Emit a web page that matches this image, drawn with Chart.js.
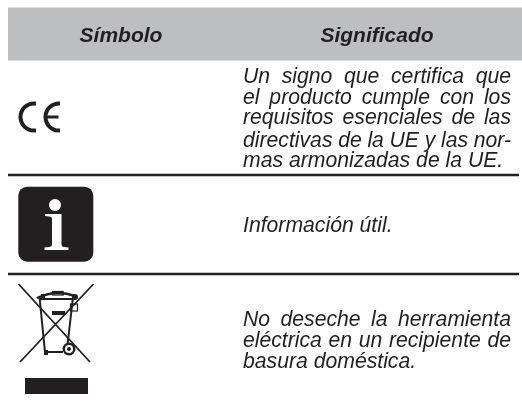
<!DOCTYPE html>
<html>
<head>
<meta charset="utf-8">
<script src="https://cdn.jsdelivr.net/npm/chart.js@4"></script>
<style>
  html, body { margin: 0; padding: 0; background: #fff; }
  canvas { display: block; }
</style>
</head>
<body>
<canvas id="table-chart" width="522" height="403"></canvas>
<script>
// Table contents
const headers = ["Símbolo", "Significado"];
const headerX = [121, 377];
const headerBaseline = 42;

const ceLines = [
  "Un signo que certifica que",
  "el producto cumple con los",
  "requisitos esenciales de las",
  "directivas de la UE y las nor-",
  "mas armonizadas de la UE.",
];
const ceBaselines = [83, 104, 124, 146.5, 167];
const infoLines = ["Información útil."];
const infoBaselines = [232];
const wasteLines = [
  "No deseche la herramienta",
  "eléctrica en un recipiente de",
  "basura doméstica.",
];
const wasteBaselines = [326, 347, 367.5];

// Table frame
const headerBandY = 34;
const ruleRows = [175, 274];
const tableLeft = 8;
const tableRight = 519;
const textLeft = 243;
const textRight = 511;
const INK = "#231f20";

// Draw one block of text, stretching every line but the last to the column
function drawBlock(ctx, lines, baselines, scales) {
  const full = scales.x.getPixelForValue(textRight) - scales.x.getPixelForValue(textLeft);
  ctx.font = "italic 21.2px 'Liberation Sans'";
  ctx.fillStyle = INK;
  ctx.textAlign = "left";
  lines.forEach((line, i) => {
    ctx.wordSpacing = "0px";
    if (i < lines.length - 1) {
      const gaps = line.split(" ").length - 1;
      ctx.wordSpacing = (full - ctx.measureText(line).width) / gaps + "px";
    }
    ctx.fillText(line, scales.x.getPixelForValue(textLeft), scales.y.getPixelForValue(baselines[i]));
  });
  ctx.wordSpacing = "0px";
}

function drawCe(ctx) {
  ctx.strokeStyle = INK;
  ctx.lineWidth = 4;
  ctx.beginPath();
  ctx.moveTo(36, 103.5);
  ctx.lineTo(34, 103.5);
  ctx.arc(34, 117, 13.5, 1.5 * Math.PI, 0.5 * Math.PI, true);
  ctx.lineTo(36, 130.5);
  ctx.stroke();
  ctx.beginPath();
  ctx.moveTo(60, 103.5);
  ctx.lineTo(59, 103.5);
  ctx.arc(59, 117, 13.5, 1.5 * Math.PI, 0.5 * Math.PI, true);
  ctx.lineTo(60, 130.5);
  ctx.stroke();
  ctx.lineWidth = 3;
  ctx.beginPath();
  ctx.moveTo(46, 117);
  ctx.lineTo(58.5, 117);
  ctx.stroke();
}

function drawInfo(ctx) {
  ctx.fillStyle = INK;
  ctx.beginPath();
  ctx.roundRect(18.3, 186.7, 75, 75, 9);
  ctx.fill();
  ctx.fillStyle = "#fff";
  ctx.beginPath();
  ctx.arc(55, 205, 6, 0, 2 * Math.PI);
  ctx.fill();
  ctx.beginPath();
  ctx.moveTo(45, 214);
  ctx.lineTo(61.5, 214);
  ctx.lineTo(61.5, 244);
  ctx.quadraticCurveTo(61.5, 247, 64, 247);
  ctx.lineTo(68.5, 247.5);
  ctx.lineTo(68.5, 250);
  ctx.lineTo(44.5, 250);
  ctx.lineTo(44.5, 247.5);
  ctx.lineTo(49, 247);
  ctx.quadraticCurveTo(52, 247, 52, 244);
  ctx.lineTo(52, 219);
  ctx.quadraticCurveTo(52, 216.5, 49, 216.5);
  ctx.lineTo(45, 216);
  ctx.closePath();
  ctx.fill();
}

function drawBin(ctx) {
  ctx.strokeStyle = INK;
  ctx.fillStyle = INK;
  // crossed lines
  ctx.lineWidth = 1.8;
  ctx.beginPath();
  ctx.moveTo(18.5, 284);
  ctx.lineTo(90, 362);
  ctx.moveTo(93.5, 284);
  ctx.lineTo(20, 362);
  ctx.stroke();
  // body
  ctx.lineWidth = 2;
  ctx.beginPath();
  ctx.moveTo(39.5, 297);
  ctx.lineTo(45, 352);
  ctx.lineTo(63, 352);
  ctx.moveTo(73, 297);
  ctx.lineTo(67.5, 345);
  ctx.moveTo(40, 299);
  ctx.lineTo(73, 299);
  ctx.stroke();
  ctx.fillRect(44, 350, 4, 5);
  // lid
  ctx.lineWidth = 2.4;
  ctx.beginPath();
  ctx.moveTo(37, 298);
  ctx.quadraticCurveTo(56, 289, 75, 296);
  ctx.stroke();
  ctx.lineWidth = 1.2;
  ctx.strokeRect(52.7, 291.5, 10.5, 3.5);
  ctx.fillRect(41, 294, 4, 6);
  ctx.beginPath();
  ctx.arc(75, 297, 3, 0, 2 * Math.PI);
  ctx.fill();
  ctx.strokeRect(70.5, 304, 7, 7);
  // label on the bin
  ctx.fillRect(52, 311, 13, 4);
  // wheel
  ctx.beginPath();
  ctx.arc(69, 349, 6.5, 0, 2 * Math.PI);
  ctx.fill();
  ctx.fillStyle = "#fff";
  ctx.beginPath();
  ctx.arc(69, 349, 4, 0, 2 * Math.PI);
  ctx.fill();
  ctx.fillStyle = INK;
  ctx.beginPath();
  ctx.arc(69, 349, 2, 0, 2 * Math.PI);
  ctx.fill();
  // bar under the bin
  ctx.fillRect(25, 378, 63, 16);
}

const tablePlugin = {
  id: "tableText",
  afterDatasetsDraw(chart) {
    const { ctx, scales } = chart;
    ctx.save();
    ctx.font = "italic bold 21px 'Liberation Sans'";
    ctx.fillStyle = INK;
    ctx.textAlign = "center";
    headers.forEach((h, i) => {
      ctx.fillText(h, scales.x.getPixelForValue(headerX[i]), scales.y.getPixelForValue(headerBaseline));
    });
    drawBlock(ctx, ceLines, ceBaselines, scales);
    drawBlock(ctx, infoLines, infoBaselines, scales);
    drawBlock(ctx, wasteLines, wasteBaselines, scales);
    drawCe(ctx);
    drawInfo(ctx);
    drawBin(ctx);
    ctx.restore();
  },
};

const ctx = document.getElementById("table-chart").getContext("2d");
new Chart(ctx, {
  type: "line",
  data: {
    datasets: [
      {
        label: "Cabecera",
        data: [{ x: tableLeft, y: headerBandY }, { x: 522, y: headerBandY }],
        borderColor: "#bcbec0",
        borderWidth: 53,
        pointRadius: 0,
      },
      ...ruleRows.map((row) => ({
        label: "Regla",
        data: [{ x: tableLeft, y: row }, { x: tableRight, y: row }],
        borderColor: INK,
        borderWidth: 2.5,
        pointRadius: 0,
      })),
    ],
  },
  options: {
    responsive: false,
    animation: false,
    layout: { padding: 0 },
    plugins: {
      legend: { display: false },
      tooltip: { enabled: false },
    },
    scales: {
      x: { type: "linear", display: false, min: 0, max: 522 },
      y: { type: "linear", display: false, min: 0, max: 403, reverse: true },
    },
  },
  plugins: [tablePlugin],
});
</script>
</body>
</html>
